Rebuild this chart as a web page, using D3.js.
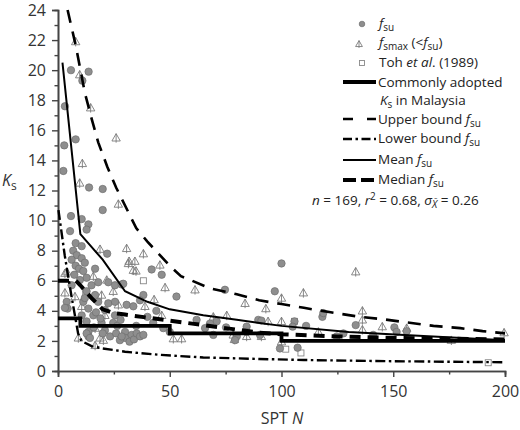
<!DOCTYPE html>
<html>
<head>
<meta charset="utf-8">
<script src="https://cdn.jsdelivr.net/npm/d3@7"></script>
<style>
  body { margin: 0; background: white; }
  svg { font-family: "Open Sans", sans-serif; }
</style>
</head>
<body>
<svg id="chart" width="520" height="430"></svg>
<script>
// f_su points [SPT N, Ks]
const fsu = [
  [5.8,20.0],[13.7,19.9],[10.9,19.3],[3.1,17.6],[2.8,15.0],[7.9,15.4],[2.4,13.3],[13.9,12.2],[20,12.1],
  [20,10.7],[5.8,10.3],[10.6,10.1],[13.6,9.75],[12.8,9.4],[5.4,9.3],[7.9,8.5],[10.6,8.3],[6.8,8.0],[22,7.8],
  [8.4,7.7],[10.6,7.5],[6.1,7.4],[12,7.2],[7.9,7.0],[9.4,6.8],[16.6,6.8],[11.3,6.65],[7.3,6.4],[12.8,6.2],
  [9.8,6.05],[15,5.7],[18,5.9],[22.5,5.9],[25.5,5.7],[28.5,5.75],[12.8,5.3],[16.6,5.05],[11.3,4.6],[18,4.6],
  [22.5,4.5],[25.5,4.6],[30.7,4.4],[3.9,4.6],[4.3,4.15],[13.6,4.15],[21,4.05],[10.6,3.7],[15.8,3.7],[25.5,3.7],
  [12.8,3.3],[19.5,3.2],[24.7,3.2],[13.6,2.6],[21,2.7],[30,2.6],[13.6,2.3],[23.3,2.3],[30,2.2],[33,2.4],
  [32,1.95],[27.7,2.05],[6.1,5.7],[12,4.85],[3.1,4.2],[12.8,2.5],[14.3,2.2],[17,3.9],[19,3.5],[26.5,3.0],
  [28,3.4],[35,3.0],[40,3.6],[44,4.0],[16,2.9],[20,2.5],[26,2.5],[28.5,2.3],[34,2.1],
  [41.9,6.75],[46.4,6.4],[38.2,5.05],[53,4.95],[29.2,5.8],[36.7,4.7],[33.7,4.3],[35.2,2.5],[36.7,2.3],
  [38.2,2.4],[42.6,3.2],[47.1,2.85],[50,2.6],[62,3.4],[65.8,2.85],[69.5,2.4],[74.7,5.4],[80,2.3],[79.2,2.05],
  [84.4,2.95],[89.6,3.4],[90.4,2.4],[100,7.15],[97,5.3],[91,3.35],[105.8,3.3],[99.3,1.5],[107.2,1.55],
  [71,3.3],[68,3.15],[75.2,2.9],[84.4,2.6],[105,2.95],[118.3,3.6],[118.7,3.85],[133.2,3.05],[150.5,2.9],
  [156,2.65],[111,3.0],[127.7,2.5],[124.7,2.3],[141,2.4],[151.5,2.6]
];
// f_smax (< f_su) points
const fsmax = [
  [7.9,21.9],[9.7,19.7],[14.6,17.5],[26,15.5],[10.9,13.8],[9.7,12.5],[27,11.1],[30.7,8.15],[31.8,7.3],
  [33.7,6.7],[3.1,6.5],[15.8,6.3],[3.1,5.2],[7.6,4.95],[24.7,5.3],[19.5,5.05],[21,3.7],[16.6,2.85],[20.3,2.05],
  [18.8,2.2],[9.1,2.2],[16.6,1.7],[3.9,6.6],[10.6,4.3],[21.8,6.05],[31.5,7.15],[34.4,7.3],[34.9,6.65],
  [38.2,7.8],[45.6,7.05],[47.9,5.55],[43,4.75],[38.9,4.3],[46.4,3.7],[27,4.4],[61.3,5.4],[83.7,4.5],
  [51.6,2.15],[55.3,2.15],[69.5,3.6],[75.5,3.7],[78.4,2.4],[84.4,2.3],[18.8,8.1],[100,4.85],[109.8,5.2],
  [93,4.15],[100,3.3],[94,3.3],[78.9,2.1],[91,2.3],[100,1.95],[133.2,6.6],[136.2,4.0],[136.2,3.4],
  [136.2,2.75],[145.1,2.95],[156,2.85],[116.5,2.6],[176,2.05],[199.6,2.55]
];
// Toh et al. (1989)
const toh = [[38.2,6.0],[12.4,5.2],[105.8,3.3],[101.9,1.45],[108.7,1.2],[192.5,0.55]];

const adopted = [[0,3.5],[10,3.5],[10,3.0],[50,3.0],[50,2.5],[100,2.5],[100,2.0],[200,2.0]];
const upper = [[4.3,24],[8,21.6],[12,18.5],[15,16.8],[18,15.2],[22,13.6],[26,12.2],[30,11.0],[35,9.5],
  [40,8.6],[45,7.8],[50,7.0],[55,6.3],[60,6.0],[68,5.5],[80,5.1],[90,4.7],[100,4.45],[110,4.2],[122,3.9],
  [135,3.6],[145,3.45],[155,3.25],[168,3.0],[180,2.85],[190,2.65],[200,2.5]];
const lower = [[0.2,10.7],[3,7.7],[6,5.0],[9,2.5],[10.5,2.0],[15,1.65],[20,1.5],[30,1.28],[45,1.08],
  [65,0.9],[90,0.8],[110,0.73],[150,0.65],[200,0.58]];
const mean = [[2,20.5],[10,9.1],[20,7.4],[30,5.3],[40,4.6],[50,4.1],[65,3.7],[80,3.4],[100,3.0],
  [130,2.6],[155,2.4],[200,2.05]];
const median = [[0,6],[8,6],[10,5.7],[15,4.85],[20,4.1],[25,3.85],[30,3.75],[40,3.55],[50,3.35],
  [60,3.15],[75,2.85],[90,2.55],[100,2.45],[125,2.3],[150,2.2],[200,2.1]];

const yMajor = d3.range(0, 25, 2);
const yMinor = d3.range(1, 24, 2);
const xMajor = [0, 50, 100, 150, 200];
const xMinor = [25, 75, 125, 175];

main();

function main() {
  const svg = d3.select("#chart");
  const x = d3.scaleLinear().domain([0, 200]).range([58, 505]);
  const y = d3.scaleLinear().domain([0, 24]).range([371, 10]);
  const axisCol = "#444";

  // axes
  const gy = svg.append("g").attr("transform", "translate(58,0)");
  gy.call(d3.axisLeft(y).tickValues(yMajor).tickSize(6).tickPadding(6));
  const gym = svg.append("g").attr("transform", "translate(58,0)");
  gym.call(d3.axisLeft(y).tickValues(yMinor).tickSize(3.5).tickFormat(""));
  const gx = svg.append("g").attr("transform", "translate(0,371)");
  gx.call(d3.axisBottom(x).tickValues(xMajor).tickSize(6).tickPadding(9));
  const gxm = svg.append("g").attr("transform", "translate(0,371)");
  gxm.call(d3.axisBottom(x).tickValues(xMinor).tickSize(3.5).tickFormat(""));
  for (let g of [gy, gym, gx, gxm]) {
    g.select(".domain").attr("stroke", axisCol).attr("stroke-width", 1.6);
    g.selectAll("line").attr("stroke", axisCol).attr("stroke-width", 1.4);
    g.selectAll("text").attr("fill", "#333").style("font-size", "16px").style("font-family", "Open Sans");
  }

  // axis titles
  const ky = svg.append("text").attr("x", 2).attr("y", 186).attr("fill", "#333").style("font-size", "16px");
  ky.append("tspan").style("font-style", "italic").text("K");
  ky.append("tspan").attr("dy", 4).style("font-size", "12px").text("s");
  const sx = svg.append("text").attr("x", 282).attr("y", 424).attr("text-anchor", "middle")
    .attr("fill", "#333").style("font-size", "16px");
  sx.append("tspan").text("SPT ");
  sx.append("tspan").style("font-style", "italic").text("N");

  // points
  const pts = svg.append("g");
  pts.selectAll(".tri").data(fsmax).join("path")
    .attr("d", d => triPath(x(d[0]), y(d[1]), 4.2))
    .attr("fill", "none").attr("stroke", "#7a7a7a").attr("stroke-width", 0.9);
  pts.selectAll(".sq").data(toh).join("rect")
    .attr("x", d => x(d[0]) - 3).attr("y", d => y(d[1]) - 3)
    .attr("width", 6).attr("height", 6)
    .attr("fill", "white").attr("stroke", "#888").attr("stroke-width", 0.9);
  pts.selectAll(".dot").data(fsu).join("circle")
    .attr("cx", d => x(d[0])).attr("cy", d => y(d[1])).attr("r", 3.7)
    .attr("fill", "#8e8e8e").attr("stroke", "#6f6f6f").attr("stroke-width", 0.7);

  // lines
  const line = d3.line().x(d => x(d[0])).y(d => y(d[1]));
  const styles = {
    lower: {w: 2.4, dash: "10,3.5,2.5,3.5"},
    upper: {w: 2.6, dash: "13,9"},
    mean: {w: 2, dash: null},
    median: {w: 4, dash: "11,7"},
    adopted: {w: 3.8, dash: null}
  };
  const series = [["lower", lower], ["upper", upper], ["mean", mean], ["median", median], ["adopted", adopted]];
  for (let [k, data] of series) {
    svg.append("path").datum(data).attr("d", line)
      .attr("fill", "none").attr("stroke", "black")
      .attr("stroke-width", styles[k].w)
      .attr("stroke-dasharray", styles[k].dash);
  }

  legend(svg, styles);
}

function triPath(cx, cy, s) {
  return `M${cx - s},${cy + s * 0.75}L${cx},${cy - s}L${cx + s},${cy + s * 0.75}Z` +
    `M${cx},${cy - s}L${cx},${cy + s * 1.15}`;
}

function legend(svg, styles) {
  const g = svg.append("g").style("font-size", "13.5px").attr("fill", "#222");
  const tx = 379;

  function fsuText(t, pre) {
    if (pre) t.append("tspan").text(pre);
    t.append("tspan").style("font-style", "italic").text("f");
    t.append("tspan").attr("dy", 3).style("font-size", "10px").text("su");
  }

  // f_su
  g.append("circle").attr("cx", 362).attr("cy", 24).attr("r", 2.8)
    .attr("fill", "#8e8e8e").attr("stroke", "#6f6f6f").attr("stroke-width", 0.7);
  fsuText(g.append("text").attr("x", tx).attr("y", 28));

  // f_smax
  g.append("path").attr("d", triPath(359, 44, 3.4)).attr("fill", "none").attr("stroke", "#7a7a7a").attr("stroke-width", 0.9);
  const t2 = g.append("text").attr("x", tx).attr("y", 47);
  t2.append("tspan").style("font-style", "italic").text("f");
  t2.append("tspan").attr("dy", 3).style("font-size", "10px").text("smax");
  t2.append("tspan").attr("dy", -3).text(" (<");
  t2.append("tspan").style("font-style", "italic").text("f");
  t2.append("tspan").attr("dy", 3).style("font-size", "10px").text("su");
  t2.append("tspan").attr("dy", -3).text(")");

  // Toh
  g.append("rect").attr("x", 359.5).attr("y", 60.5).attr("width", 5).attr("height", 5)
    .attr("fill", "white").attr("stroke", "#888").attr("stroke-width", 0.9);
  const t3 = g.append("text").attr("x", tx).attr("y", 67);
  t3.append("tspan").text("Toh ");
  t3.append("tspan").style("font-style", "italic").text("et al");
  t3.append("tspan").text(". (1989)");

  // line samples
  const rows = [
    ["adopted", 82, 87, "Commonly adopted"],
    ["upper", 119, 124, "Upper bound "],
    ["lower", 139, 143, "Lower bound "],
    ["mean", 160, 164, "Mean "],
    ["median", 180, 184, "Median "]
  ];
  const sampleDash = {upper: "10,14", lower: "9,3.5,2.5,3.5", median: "13,5"};
  for (let [k, yy, ty, label] of rows) {
    g.append("line").attr("x1", 343).attr("x2", 376).attr("y1", yy).attr("y2", yy)
      .attr("stroke", "black").attr("stroke-width", styles[k].w)
      .attr("stroke-dasharray", sampleDash[k] || null);
    const t = g.append("text").attr("x", 378).attr("y", ty);
    if (k === "adopted") t.text(label);
    else fsuText(t, label);
  }
  const tk = g.append("text").attr("x", 380).attr("y", 105);
  tk.append("tspan").style("font-style", "italic").text("K");
  tk.append("tspan").attr("dy", 3).style("font-size", "10px").text("s");
  tk.append("tspan").attr("dy", -3).text(" in Malaysia");

  // stats
  const ts = g.append("text").attr("x", 312).attr("y", 205);
  ts.append("tspan").style("font-style", "italic").text("n");
  ts.append("tspan").text(" = 169, ");
  ts.append("tspan").style("font-style", "italic").text("r");
  ts.append("tspan").attr("dy", -5).style("font-size", "10px").text("2");
  ts.append("tspan").attr("dy", 5).text(" = 0.68, ");
  ts.append("tspan").style("font-style", "italic").text("σ");
  ts.append("tspan").attr("dy", 3).style("font-size", "10px").style("font-style", "italic").text("X\u0304");
  ts.append("tspan").attr("dy", -3).text(" = 0.26");
}
</script>
</body>
</html>
